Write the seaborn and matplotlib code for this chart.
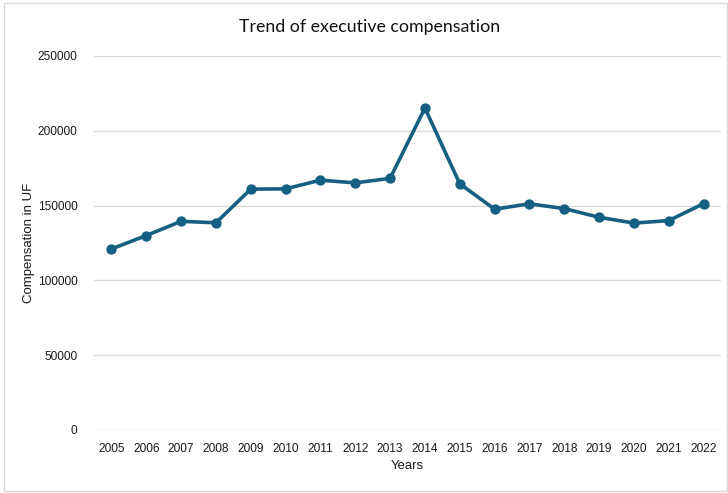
import matplotlib
matplotlib.use("Agg")
import matplotlib.pyplot as plt
from matplotlib.patches import Rectangle
import pandas as pd
import seaborn as sns

# Executive compensation (UF) by year
years = ["2005", "2006", "2007", "2008", "2009", "2010", "2011", "2012", "2013",
         "2014", "2015", "2016", "2017", "2018", "2019", "2020", "2021", "2022"]
compensation = [121000, 130000, 139500, 138500, 161000, 161200, 167000, 165200, 168200,
                215200, 164600, 147600, 151200, 148000, 142200, 138300, 140000, 151300]
y_ticks = [0, 50000, 100000, 150000, 200000, 250000]

df = pd.DataFrame({"Years": years, "Compensation in UF": compensation})

sns.set_theme(style="white")
plt.rcParams["font.family"] = ["Liberation Sans", "DejaVu Sans"]

W, H = 728, 493
fig = plt.figure(figsize=(W / 100, H / 100), dpi=100)
ax = fig.add_axes([94 / W, 63 / H, (721 - 94) / W, (430 - 56) / H])

line_color = "#156082"
sns.pointplot(data=df, x="Years", y="Compensation in UF", color=line_color,
              markers="o", markersize=5.5, linewidth=2.6, errorbar=None, ax=ax)

ax.set_ylim(0, 250000)
ax.set_yticks(y_ticks)
ax.set_yticklabels([str(v) for v in y_ticks])
ax.set_xlim(-0.5, len(years) - 0.5)
ax.yaxis.grid(True, color="#d9d9d9", linewidth=1.0)
ax.set_axisbelow(True)
for s in ax.spines.values():
    s.set_visible(False)
ax.tick_params(axis="both", length=0, labelsize=8.6, colors="#1a1a1a")
ax.tick_params(axis="y", pad=12)
ax.tick_params(axis="x", pad=9)

ax.set_xlabel("Years", fontsize=9.5, color="#1a1a1a", labelpad=4)
ax.set_ylabel("Compensation in UF", fontsize=9.5, color="#1a1a1a", labelpad=2)

fig.text(370 / W, 1 - 27 / H, "Trend of executive compensation", ha="center", va="center",
         fontsize=12.8, color="#111111", family=["Lato", "DejaVu Sans"])

# thin chart border
fig.patches.append(Rectangle((4 / W, 2 / H), 723 / W, 488 / H, transform=fig.transFigure,
                             fill=False, edgecolor="#d9d9d9", linewidth=1.0))

fig.savefig("out.png", dpi=100)
